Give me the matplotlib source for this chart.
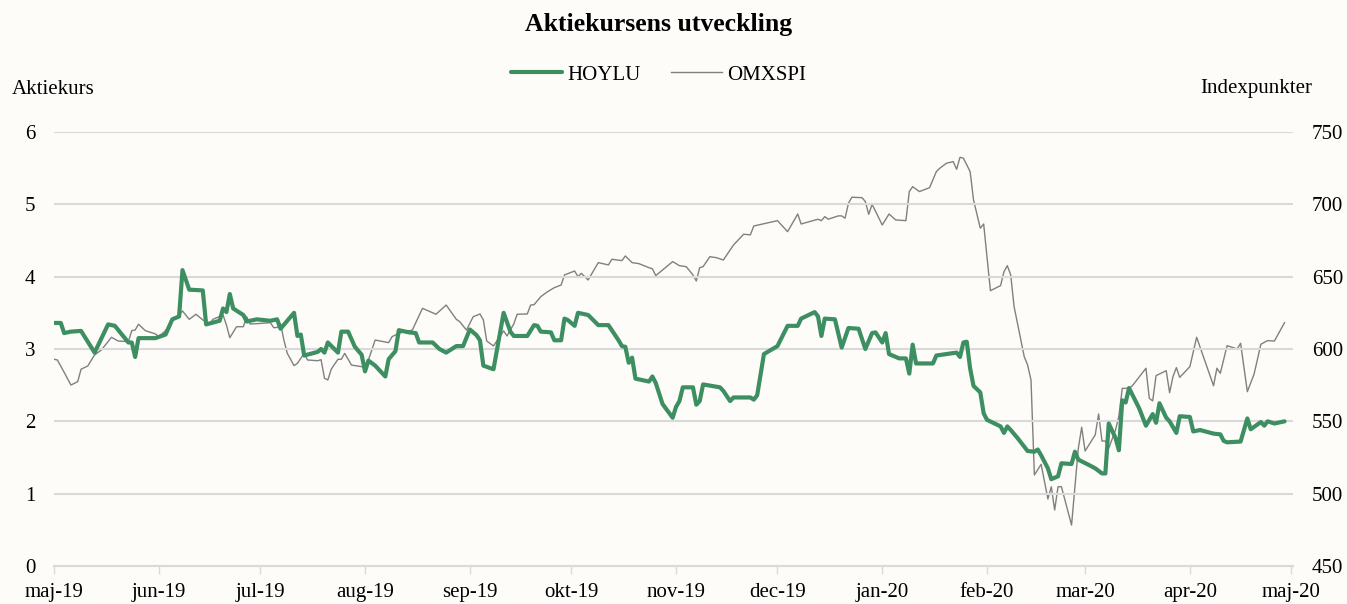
import matplotlib
matplotlib.use("Agg")
import matplotlib.pyplot as plt
import numpy as np
import pandas as pd

# --- data ---
hoylu_dates = [
    "2019-05-01", "2019-05-03", "2019-05-04", "2019-05-06", "2019-05-09", "2019-05-11",
    "2019-05-13", "2019-05-17", "2019-05-19", "2019-05-23", "2019-05-24", "2019-05-25",
    "2019-05-26", "2019-05-31", "2019-06-03", "2019-06-05", "2019-06-07", "2019-06-08",
    "2019-06-10", "2019-06-14", "2019-06-15", "2019-06-19", "2019-06-20", "2019-06-21",
    "2019-06-22", "2019-06-23", "2019-06-26", "2019-06-27", "2019-06-30", "2019-07-04",
    "2019-07-06", "2019-07-07", "2019-07-11", "2019-07-12", "2019-07-13", "2019-07-14",
    "2019-07-18", "2019-07-19", "2019-07-20", "2019-07-21", "2019-07-24", "2019-07-25",
    "2019-07-27", "2019-07-29", "2019-07-31", "2019-08-01", "2019-08-02", "2019-08-04",
    "2019-08-07", "2019-08-08", "2019-08-10", "2019-08-11", "2019-08-14", "2019-08-16",
    "2019-08-17", "2019-08-21", "2019-08-23", "2019-08-25", "2019-08-28", "2019-08-30",
    "2019-09-01", "2019-09-03", "2019-09-04", "2019-09-05", "2019-09-08", "2019-09-11",
    "2019-09-13", "2019-09-14", "2019-09-18", "2019-09-20", "2019-09-21", "2019-09-22",
    "2019-09-25", "2019-09-26", "2019-09-28", "2019-09-29", "2019-09-30", "2019-10-02",
    "2019-10-03", "2019-10-06", "2019-10-09", "2019-10-12", "2019-10-15", "2019-10-16",
    "2019-10-17", "2019-10-18", "2019-10-19", "2019-10-20", "2019-10-24", "2019-10-25",
    "2019-10-26", "2019-10-28", "2019-10-31", "2019-11-01", "2019-11-02", "2019-11-03",
    "2019-11-06", "2019-11-07", "2019-11-08", "2019-11-09", "2019-11-14", "2019-11-15",
    "2019-11-17", "2019-11-18", "2019-11-23", "2019-11-24", "2019-11-25", "2019-11-27",
    "2019-12-01", "2019-12-04", "2019-12-07", "2019-12-08", "2019-12-12", "2019-12-13",
    "2019-12-14", "2019-12-15", "2019-12-18", "2019-12-20", "2019-12-22", "2019-12-25",
    "2019-12-27", "2019-12-29", "2019-12-30", "2020-01-01", "2020-01-02", "2020-01-03",
    "2020-01-06", "2020-01-08", "2020-01-09", "2020-01-10", "2020-01-11", "2020-01-16",
    "2020-01-17", "2020-01-23", "2020-01-24", "2020-01-25", "2020-01-26", "2020-01-27",
    "2020-01-28", "2020-01-30", "2020-01-31", "2020-02-01", "2020-02-05", "2020-02-06",
    "2020-02-07", "2020-02-08", "2020-02-10", "2020-02-13", "2020-02-15", "2020-02-16",
    "2020-02-17", "2020-02-19", "2020-02-20", "2020-02-22", "2020-02-23", "2020-02-26",
    "2020-02-27", "2020-02-28", "2020-03-02", "2020-03-04", "2020-03-06", "2020-03-07",
    "2020-03-08", "2020-03-10", "2020-03-11", "2020-03-12", "2020-03-13", "2020-03-14",
    "2020-03-17", "2020-03-19", "2020-03-21", "2020-03-22", "2020-03-23", "2020-03-25",
    "2020-03-26", "2020-03-28", "2020-03-29", "2020-04-01", "2020-04-02", "2020-04-04",
    "2020-04-08", "2020-04-10", "2020-04-11", "2020-04-12", "2020-04-16", "2020-04-18",
    "2020-04-19", "2020-04-22", "2020-04-23", "2020-04-24", "2020-04-26", "2020-04-29",
]
hoylu_values = [
    3.36, 3.36, 3.22, 3.24, 3.25, 3.10,
    2.95, 3.34, 3.32, 3.09, 3.09, 2.89,
    3.15, 3.15, 3.20, 3.41, 3.45, 4.09,
    3.82, 3.81, 3.34, 3.39, 3.56, 3.51,
    3.76, 3.56, 3.47, 3.38, 3.41, 3.39,
    3.41, 3.28, 3.50, 3.18, 3.20, 2.91,
    2.96, 3.00, 2.95, 3.09, 2.95, 3.24,
    3.24, 3.03, 2.92, 2.69, 2.84, 2.77,
    2.62, 2.86, 2.97, 3.26, 3.23, 3.22,
    3.09, 3.09, 3.00, 2.95, 3.04, 3.04,
    3.27, 3.19, 3.12, 2.77, 2.72, 3.50,
    3.24, 3.18, 3.18, 3.33, 3.32, 3.24,
    3.23, 3.12, 3.12, 3.42, 3.40, 3.32,
    3.50, 3.47, 3.33, 3.33, 3.12, 3.04,
    3.03, 2.81, 2.88, 2.59, 2.55, 2.62,
    2.53, 2.24, 2.05, 2.20, 2.28, 2.47,
    2.47, 2.23, 2.28, 2.51, 2.47, 2.42,
    2.28, 2.33, 2.33, 2.30, 2.36, 2.93,
    3.04, 3.32, 3.32, 3.42, 3.51, 3.45,
    3.18, 3.42, 3.41, 3.02, 3.29, 3.28,
    3.00, 3.22, 3.23, 3.09, 3.22, 2.93,
    2.87, 2.87, 2.66, 3.06, 2.80, 2.80,
    2.91, 2.95, 2.89, 3.09, 3.10, 2.73,
    2.49, 2.40, 2.11, 2.02, 1.93, 1.84,
    1.93, 1.88, 1.77, 1.59, 1.58, 1.61,
    1.53, 1.35, 1.20, 1.24, 1.42, 1.41,
    1.58, 1.47, 1.40, 1.35, 1.28, 1.28,
    1.97, 1.77, 1.60, 2.29, 2.26, 2.46,
    2.18, 1.94, 2.10, 1.98, 2.25, 2.05,
    2.00, 1.84, 2.07, 2.06, 1.86, 1.88,
    1.83, 1.82, 1.73, 1.71, 1.72, 2.04,
    1.89, 1.99, 1.94, 2.00, 1.97, 2.00,
]

omx_dates = [
    "2019-05-01", "2019-05-02", "2019-05-04", "2019-05-06", "2019-05-08", "2019-05-09",
    "2019-05-11", "2019-05-13", "2019-05-15", "2019-05-17", "2019-05-18", "2019-05-20",
    "2019-05-23", "2019-05-24", "2019-05-25", "2019-05-26", "2019-05-28", "2019-05-31",
    "2019-06-01", "2019-06-03", "2019-06-05", "2019-06-07", "2019-06-08", "2019-06-10",
    "2019-06-12", "2019-06-14", "2019-06-16", "2019-06-17", "2019-06-20", "2019-06-21",
    "2019-06-22", "2019-06-24", "2019-06-26", "2019-06-27", "2019-06-28", "2019-06-30",
    "2019-07-04", "2019-07-05", "2019-07-06", "2019-07-07", "2019-07-08", "2019-07-09",
    "2019-07-11", "2019-07-12", "2019-07-14", "2019-07-15", "2019-07-18", "2019-07-19",
    "2019-07-20", "2019-07-21", "2019-07-22", "2019-07-24", "2019-07-25", "2019-07-26",
    "2019-07-28", "2019-08-01", "2019-08-02", "2019-08-04", "2019-08-08", "2019-08-09",
    "2019-08-11", "2019-08-15", "2019-08-18", "2019-08-22", "2019-08-25", "2019-08-28",
    "2019-08-29", "2019-08-31", "2019-09-02", "2019-09-04", "2019-09-05", "2019-09-06",
    "2019-09-08", "2019-09-11", "2019-09-12", "2019-09-14", "2019-09-15", "2019-09-18",
    "2019-09-19", "2019-09-20", "2019-09-22", "2019-09-24", "2019-09-26", "2019-09-28",
    "2019-09-29", "2019-10-02", "2019-10-03", "2019-10-04", "2019-10-06", "2019-10-09",
    "2019-10-12", "2019-10-13", "2019-10-16", "2019-10-17", "2019-10-19", "2019-10-21",
    "2019-10-24", "2019-10-25", "2019-10-26", "2019-10-31", "2019-11-02", "2019-11-04",
    "2019-11-06", "2019-11-07", "2019-11-08", "2019-11-09", "2019-11-11", "2019-11-13",
    "2019-11-15", "2019-11-18", "2019-11-21", "2019-11-23", "2019-11-24", "2019-12-01",
    "2019-12-04", "2019-12-07", "2019-12-08", "2019-12-13", "2019-12-14", "2019-12-15",
    "2019-12-16", "2019-12-19", "2019-12-20", "2019-12-21", "2019-12-22", "2019-12-23",
    "2019-12-26", "2019-12-27", "2019-12-28", "2019-12-29", "2020-01-01", "2020-01-03",
    "2020-01-05", "2020-01-08", "2020-01-09", "2020-01-10", "2020-01-12", "2020-01-15",
    "2020-01-17", "2020-01-18", "2020-01-20", "2020-01-22", "2020-01-23", "2020-01-24",
    "2020-01-25", "2020-01-27", "2020-01-28", "2020-01-30", "2020-01-31", "2020-02-02",
    "2020-02-05", "2020-02-06", "2020-02-07", "2020-02-08", "2020-02-09", "2020-02-12",
    "2020-02-13", "2020-02-14", "2020-02-15", "2020-02-17", "2020-02-18", "2020-02-19",
    "2020-02-20", "2020-02-21", "2020-02-22", "2020-02-23", "2020-02-26", "2020-02-28",
    "2020-02-29", "2020-03-01", "2020-03-04", "2020-03-05", "2020-03-06", "2020-03-07",
    "2020-03-08", "2020-03-10", "2020-03-11", "2020-03-12", "2020-03-14", "2020-03-15",
    "2020-03-19", "2020-03-20", "2020-03-21", "2020-03-22", "2020-03-25", "2020-03-26",
    "2020-03-27", "2020-03-28", "2020-03-29", "2020-04-01", "2020-04-03", "2020-04-08",
    "2020-04-09", "2020-04-10", "2020-04-12", "2020-04-15", "2020-04-16", "2020-04-18",
    "2020-04-20", "2020-04-22", "2020-04-24", "2020-04-26", "2020-04-29",
]
omx_values = [
    592.9, 592.4, 583.9, 575.1, 577.4, 586.0,
    588.3, 595.9, 599.3, 605.1, 608.1, 605.5,
    605.1, 612.7, 613.1, 617.1, 612.7, 610.4,
    608.5, 612.7, 620.1, 623.5, 626.3, 620.5,
    624.0, 620.1, 617.3, 620.5, 623.5, 616.6,
    607.8, 615.4, 615.4, 622.3, 617.3, 617.5,
    618.2, 614.7, 614.9, 617.5, 606.2, 597.0,
    588.5, 590.1, 597.0, 592.4, 591.9, 592.6,
    579.8, 578.6, 586.0, 592.9, 592.9, 597.0,
    588.9, 587.4, 592.4, 606.2, 604.4, 608.5,
    610.9, 613.1, 628.1, 624.0, 630.4, 620.5,
    618.9, 613.1, 622.3, 624.2, 620.1, 605.5,
    602.1, 612.5, 609.0, 617.3, 624.0, 624.2,
    630.4, 630.6, 636.2, 639.6, 642.4, 644.2,
    651.2, 653.9, 650.0, 652.3, 647.7, 659.7,
    658.1, 662.0, 661.1, 664.3, 659.7, 659.0,
    656.2, 655.5, 650.7, 660.4, 657.6, 656.9,
    651.2, 647.0, 656.2, 656.9, 663.8, 663.1,
    661.5, 671.9, 679.3, 678.9, 685.0, 688.7,
    681.1, 693.3, 686.4, 689.7, 688.7, 691.5,
    689.7, 692.0, 692.0, 690.4, 700.7, 704.9,
    704.6, 701.9, 693.1, 700.0, 685.7, 693.3,
    689.2, 688.7, 708.8, 712.2, 708.8, 711.5,
    722.6, 724.9, 728.4, 729.5, 724.2, 732.5,
    731.9, 722.6, 703.0, 683.5, 686.4, 640.3,
    643.8, 653.4, 657.6, 651.2, 629.3, 594.7,
    588.9, 578.6, 512.9, 520.3, 508.3, 496.3,
    504.8, 488.7, 504.8, 504.8, 478.3, 531.4,
    545.9, 529.5, 540.6, 555.1, 536.4, 536.4,
    531.4, 544.0, 553.7, 572.8, 572.8, 574.6,
    586.7, 565.9, 564.1, 581.6, 585.0, 569.8,
    580.9, 587.1, 580.4, 587.8, 608.1, 574.6,
    586.7, 583.2, 602.3, 600.0, 604.0, 570.5,
    582.7, 603.3, 605.8, 605.5, 618.2,
]

month_ticks = pd.date_range("2019-05-01", "2020-05-01", freq="MS")
swedish_months = ["jan", "feb", "mar", "apr", "maj", "jun",
                  "jul", "aug", "sep", "okt", "nov", "dec"]
left_ticks = [0, 1, 2, 3, 4, 5, 6]
right_ticks = [450, 500, 550, 600, 650, 700, 750]

# --- style ---
bg = "#fdfcf9"
green = "#3d8f62"
gray = "#808080"
grid_col = "#d9d9d9"
fs = 15
plt.rcParams["font.family"] = ["Liberation Serif", "DejaVu Serif"]

fig = plt.figure(figsize=(13.47, 6.04), dpi=100, facecolor=bg)
ax = fig.add_axes([0.0401, 0.0629, 0.9198, 0.7186], facecolor=bg)
ax2 = ax.twinx()

hx = pd.to_datetime(hoylu_dates)
ox = pd.to_datetime(omx_dates)

ax2.plot(ox, omx_values, color=gray, lw=1.0, zorder=2, label="OMXSPI")
ax.plot(hx, hoylu_values, color=green, lw=3.0, zorder=3, label="HOYLU",
        solid_joinstyle="round", solid_capstyle="round")
ax.set_zorder(ax2.get_zorder() + 1)
ax.patch.set_visible(False)

ax.set_ylim(0, 6)
ax2.set_ylim(450, 750)
ax.set_yticks(left_ticks)
ax2.set_yticks(right_ticks)
ax.set_xlim(pd.Timestamp("2019-05-01"), pd.Timestamp("2020-05-01 12:00"))

ax.set_xticks(month_ticks)
ax.set_xticklabels([f"{swedish_months[d.month - 1]}-{d.strftime('%y')}" for d in month_ticks])

for a in (ax, ax2):
    for s in a.spines.values():
        s.set_visible(False)
ax.grid(axis="y", color=grid_col, lw=1.5, zorder=0)
ax.set_axisbelow(True)
ax.spines["bottom"].set_visible(True)
ax.spines["bottom"].set_color(grid_col)
ax.spines["bottom"].set_linewidth(1.5)

# pads are in points: ~19 px gap at 100 dpi
ax.tick_params(axis="x", direction="out", length=6, width=1, color=grid_col,
               labelsize=fs, pad=6.5)
ax.tick_params(axis="y", length=0, labelsize=fs, pad=13.5)
ax2.tick_params(axis="y", length=0, labelsize=fs, pad=13.5)

fig.text(0.489, 0.96, "Aktiekursens utveckling", ha="center", va="center",
         fontsize=18.5, fontweight="bold")
fig.text(12 / 1347, 1 - 89 / 604, "Aktiekurs", ha="left", va="center", fontsize=fs)
fig.text(1312 / 1347, 1 - 89 / 604, "Indexpunkter", ha="right", va="center", fontsize=fs)

h1, l1 = ax.get_legend_handles_labels()
h2, l2 = ax2.get_legend_handles_labels()
fig.legend(h1 + h2, l1 + l2, loc="center", bbox_to_anchor=(0.489, 1 - 75 / 604),
           ncol=2, frameon=False, fontsize=fs, handlelength=2.45,
           columnspacing=1.45, handletextpad=0.25)

fig.savefig("out.png", dpi=100, facecolor=bg)
